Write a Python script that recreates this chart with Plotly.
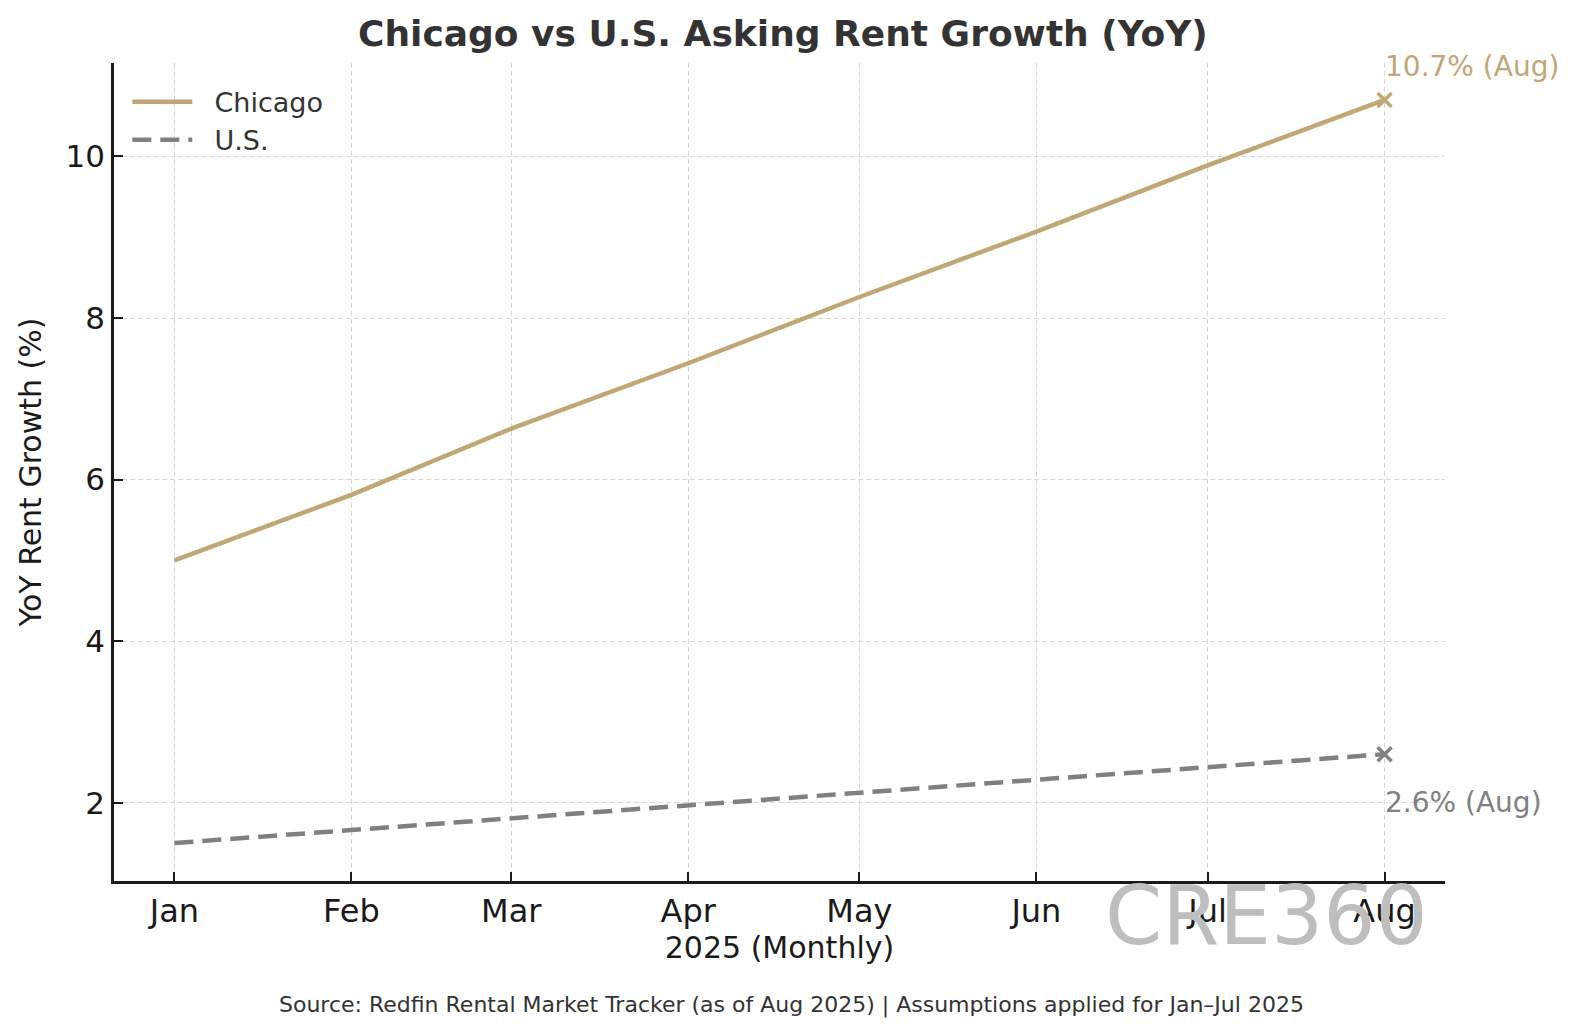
import plotly.graph_objects as go

# Monthly data, 2025
months = ["2025-01-01", "2025-02-01", "2025-03-01", "2025-04-01",
          "2025-05-01", "2025-06-01", "2025-07-01", "2025-08-01"]
month_labels = ["Jan", "Feb", "Mar", "Apr", "May", "Jun", "Jul", "Aug"]
chicago = [5.0, 5.81, 6.63, 7.44, 8.26, 9.07, 9.89, 10.7]
us = [1.5, 1.66, 1.81, 1.97, 2.13, 2.29, 2.44, 2.6]
y_ticks = [2, 4, 6, 8, 10]

gold = "#C1A676"
grey = "#808080"
font_family = "DejaVu Sans"

fig = go.Figure()

fig.add_trace(go.Scatter(
    x=months, y=chicago, mode="lines", name="&nbsp;&nbsp;Chicago",
    line=dict(color=gold, width=4.5), cliponaxis=False
))
fig.add_trace(go.Scatter(
    x=months, y=us, mode="lines", name="&nbsp;&nbsp;U.S.",
    line=dict(color=grey, width=4.5, dash="19px,9px"), cliponaxis=False
))

# end-point markers
fig.add_trace(go.Scatter(
    x=[months[-1]], y=[chicago[-1]], mode="markers", showlegend=False,
    marker=dict(symbol="x-thin-open", size=14, color=gold, line=dict(color=gold, width=3.5)),
    cliponaxis=False, hoverinfo="skip"
))
fig.add_trace(go.Scatter(
    x=[months[-1]], y=[us[-1]], mode="markers", showlegend=False,
    marker=dict(symbol="x-thin-open", size=14, color=grey, line=dict(color=grey, width=3.5)),
    cliponaxis=False, hoverinfo="skip"
))

fig.add_annotation(
    x=months[-1], y=chicago[-1], text=f"{chicago[-1]}% (Aug)", showarrow=False,
    xanchor="left", yanchor="middle", xshift=-2, yshift=33,
    font=dict(size=28, color=gold, family=font_family)
)
fig.add_annotation(
    x=months[-1], y=us[-1], text=f"{us[-1]}% (Aug)", showarrow=False,
    xanchor="left", yanchor="middle", xshift=-2, yshift=-48,
    font=dict(size=28, color=grey, family=font_family)
)

# watermark
fig.add_annotation(
    xref="paper", yref="paper", x=0.866, y=-0.042, text="CRE360", showarrow=False,
    xanchor="center", yanchor="middle",
    font=dict(size=82, color="#BEBEBE", family=font_family)
)

# source
fig.add_annotation(
    xref="paper", yref="paper", x=0.509, y=-0.152, text="Source: Redfin Rental Market Tracker (as of Aug 2025) | Assumptions applied for Jan–Jul 2025",
    showarrow=False, xanchor="center", yanchor="middle",
    font=dict(size=22, color="#333333", family=font_family)
)

fig.update_layout(
    width=1575, height=1035,
    margin=dict(l=106, r=138, t=55, b=162),
    plot_bgcolor="white", paper_bgcolor="white",
    font=dict(family=font_family, color="#1a1a1a"),
    title=dict(
        text="<b>Chicago vs U.S. Asking Rent Growth (YoY)</b>",
        x=0.492, xanchor="center", y=0.975, yanchor="middle",
        font=dict(size=36, color="#333333", family=font_family)
    ),
    legend=dict(
        x=0.01, y=0.982, xanchor="left", yanchor="top",
        bgcolor="rgba(0,0,0,0)", font=dict(size=27, color="#333333"),
        itemwidth=60, tracegroupgap=0
    ),
    xaxis=dict(
        type="date", range=["2024-12-21 10:00", "2025-08-11 14:00"],
        tickvals=months, ticktext=month_labels,
        tickfont=dict(size=32), ticks="inside", ticklen=9, tickwidth=2, tickcolor="#1a1a1a",
        showline=True, linecolor="#1a1a1a", linewidth=2.5,
        showgrid=True, gridcolor="#d6d6d6", griddash="5px,3px", gridwidth=1.2,
        zeroline=False,
        title=dict(text="2025 (Monthly)", font=dict(size=30), standoff=6)
    ),
    yaxis=dict(
        range=[1.03, 11.157], tickvals=y_ticks,
        tickfont=dict(size=31), ticks="inside", ticklen=9, tickwidth=2, tickcolor="#1a1a1a",
        showline=True, linecolor="#1a1a1a", linewidth=2.5,
        showgrid=True, gridcolor="#d6d6d6", griddash="5px,3px", gridwidth=1.2,
        zeroline=False,
        title=dict(text="YoY Rent Growth (%)", font=dict(size=30), standoff=16)
    ),
)

fig.write_html("out.html")
